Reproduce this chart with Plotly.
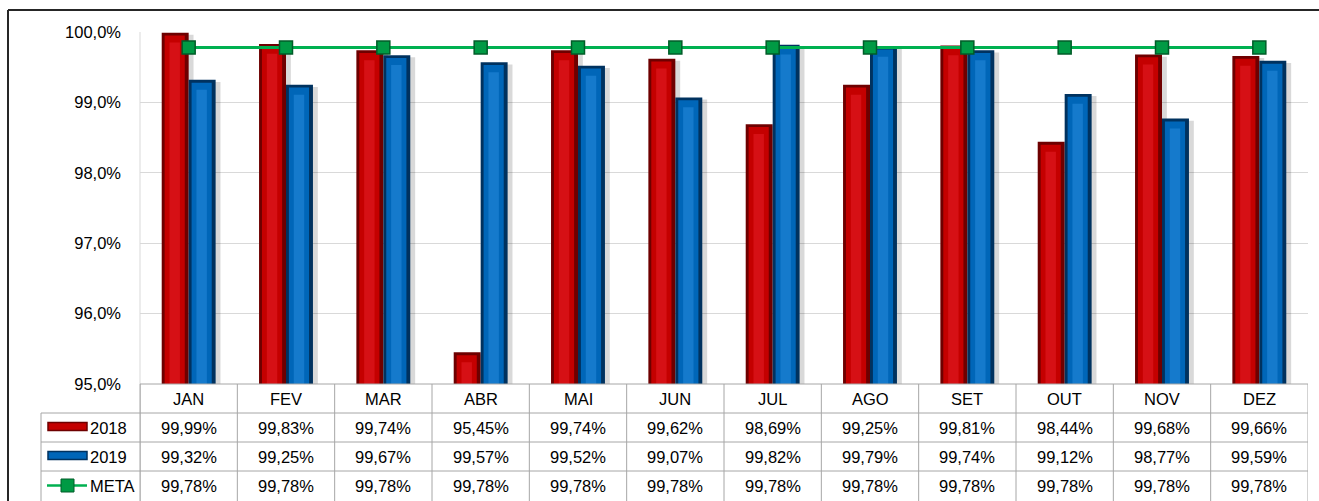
import plotly.graph_objects as go

# Monthly availability (%) per year and the target
months = ["JAN", "FEV", "MAR", "ABR", "MAI", "JUN", "JUL", "AGO", "SET", "OUT", "NOV", "DEZ"]
vals_2018 = [99.99, 99.83, 99.74, 95.45, 99.74, 99.62, 98.69, 99.25, 99.81, 98.44, 99.68, 99.66]
vals_2019 = [99.32, 99.25, 99.67, 99.57, 99.52, 99.07, 99.82, 99.79, 99.74, 99.12, 98.77, 99.59]
meta = [99.78] * 12
y_ticks = [95, 96, 97, 98, 99, 100]

W, H = 1319, 501
L, R, T, B = 140, 1308, 32, 384


def px_x(p):
    return (p - L) / (R - L)


def px_y(p):
    return (B - p) / (B - T)


def pct(v, d=2):
    return f"{v:.{d}f}".replace(".", ",") + "%"


FONT = "Liberation Sans, Arial, sans-serif"
FS = 16.5
GRID = "#D9D9D9"
TBL = "#A6A6A6"

x = list(range(len(months)))
bw = 0.277

fig = go.Figure()

series = [
    (vals_2018, -bw, "#6E0000", "#C40000", "#E8202A"),
    (vals_2019, 0.0, "#00325F", "#0066B8", "#2A8EE0"),
]

# soft drop shadows
for vals, off, dark, mid, light in series:
    fig.add_bar(x=x, y=[v - 0.03 for v in vals], offset=off + 0.05, width=bw,
                marker=dict(color="rgba(0,0,0,0.15)", line=dict(width=0)),
                hoverinfo="skip", showlegend=False)

# bevelled bars: dark edge, bright body, highlight strip
for vals, off, dark, mid, light in series:
    fig.add_bar(x=x, y=vals, offset=off, width=bw,
                marker=dict(color=dark, line=dict(width=0)), showlegend=False)
    fig.add_bar(x=x, y=[v - 0.04 for v in vals], offset=off + 0.03, width=bw - 0.07,
                marker=dict(color=mid, line=dict(width=0)),
                hoverinfo="skip", showlegend=False)
    fig.add_bar(x=x, y=[v - 0.14 for v in vals], offset=off + 0.08, width=bw - 0.17,
                marker=dict(color=light, line=dict(width=0)), opacity=0.5,
                hoverinfo="skip", showlegend=False)

# target line
fig.add_scatter(x=x, y=meta, mode="lines+markers",
                line=dict(color="#00B050", width=3),
                marker=dict(symbol="square", size=13, color="#009A44",
                            line=dict(color="#005C28", width=1.5)),
                showlegend=False)

shapes = []


def hline(y0, x0, x1, color=TBL, w=1):
    shapes.append(dict(type="line", xref="paper", yref="paper",
                       x0=px_x(x0), x1=px_x(x1), y0=px_y(y0), y1=px_y(y0),
                       line=dict(color=color, width=w)))


def vline(xp, y0, y1, color=TBL, w=1):
    shapes.append(dict(type="line", xref="paper", yref="paper",
                       x0=px_x(xp), x1=px_x(xp), y0=px_y(y0), y1=px_y(y1),
                       line=dict(color=color, width=w)))


# outer frame
hline(10, 8, 1319, color="#262626", w=2)
vline(8, 10, 501, color="#262626", w=2)

# plot area left edge
vline(L, T, B, color=GRID)

# data table grid
row_edges = [384, 413, 442, 471, 501]
hline(384, L, R)
for yy in row_edges[1:-1]:
    hline(yy, 41, R)
vline(41, 413, 501)
vline(L, 384, 501)
for i in range(len(months) + 1):
    shapes.append(dict(type="line", xref="x", yref="paper",
                       x0=i - 0.5, x1=i - 0.5, y0=px_y(384), y1=px_y(501),
                       line=dict(color=TBL, width=1)))

# legend keys inside the table
for (yc, dark, mid) in [(426.5, "#6E0000", "#C40000"), (455.5, "#00325F", "#0066B8")]:
    shapes.append(dict(type="rect", xref="paper", yref="paper",
                       x0=px_x(48), x1=px_x(87), y0=px_y(yc + 4), y1=px_y(yc - 4),
                       fillcolor=mid, line=dict(color=dark, width=1.5)))
hline(485.5, 47, 87, color="#00B050", w=2.5)
shapes.append(dict(type="rect", xref="paper", yref="paper",
                   x0=px_x(61), x1=px_x(74), y0=px_y(492), y1=px_y(479),
                   fillcolor="#009A44", line=dict(color="#005C28", width=1)))

annotations = []
row_centers = [(a + b) / 2 for a, b in zip(row_edges[:-1], row_edges[1:])]
tfont = dict(size=FS, color="#000", family=FONT)
for i, m in enumerate(months):
    annotations.append(dict(x=i, y=px_y(row_centers[0]), xref="x", yref="paper",
                            xanchor="center", yanchor="middle",
                            text=m, showarrow=False, font=tfont))
    for r, vals in enumerate([vals_2018, vals_2019, meta], start=1):
        annotations.append(dict(x=i, y=px_y(row_centers[r]), xref="x", yref="paper",
                                xanchor="center", yanchor="middle",
                                text=pct(vals[i]), showarrow=False, font=tfont))
for r, name in enumerate(["2018", "2019", "META"], start=1):
    annotations.append(dict(x=px_x(88), y=px_y(row_centers[r]), xref="paper", yref="paper",
                            text=name, showarrow=False, xanchor="left", yanchor="middle",
                            font=tfont))

fig.update_layout(
    width=W, height=H, autosize=False,
    margin=dict(l=L, r=W - R, t=T, b=H - B, pad=0),
    paper_bgcolor="white", plot_bgcolor="white",
    barmode="overlay",
    font=dict(family=FONT, size=FS, color="#000"),
    xaxis=dict(range=[-0.5, 11.5], showticklabels=False, showgrid=False,
               zeroline=False, showline=False, fixedrange=True),
    yaxis=dict(range=[95, 100], tickmode="array", tickvals=y_ticks,
               ticktext=[pct(v, 1) for v in y_ticks],
               showgrid=True, gridcolor=GRID, gridwidth=1, zeroline=False,
               showline=False, ticks="", ticklabelstandoff=18,
               tickfont=dict(size=FS, color="#000", family=FONT), fixedrange=True),
    shapes=shapes,
    annotations=annotations,
)

fig.write_html("out.html")
